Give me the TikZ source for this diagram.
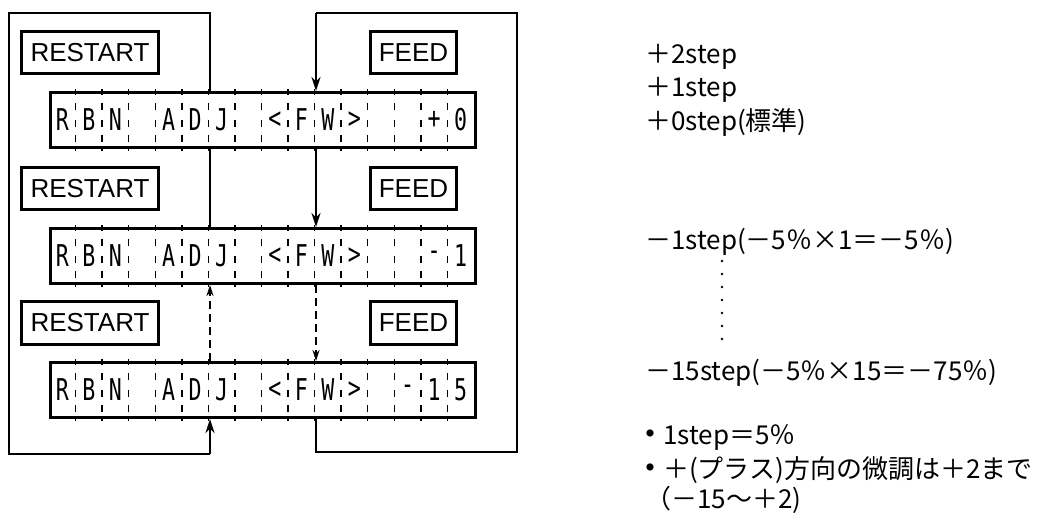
\documentclass[tikz,border=0pt]{standalone}
\usepackage{fontspec}
\usepackage{graphicx}
\setmainfont{Liberation Sans}
\newfontfamily\jp{Noto Sans CJK JP}
\newfontfamily\monof{DejaVu Sans Mono}
\usetikzlibrary{arrows.meta,calc}
\tikzset{
  disp/.style={draw,line width=3pt,minimum width=425pt,minimum height=55pt,inner sep=0pt,anchor=north west},
  keybox/.style={draw,line width=3pt,inner sep=0pt,anchor=north west,font=\fontsize{26pt}{26pt}\selectfont},
  loopline/.style={line width=2.8pt},
  divider/.style={line width=1.4pt,dash pattern=on 6pt off 8pt on 7pt off 10pt on 7pt off 8pt on 7pt},
  cellchar/.style={font=\monof\fontsize{30pt}{30pt}\selectfont,inner sep=0pt},
  solidarrow/.style={loopline,-{Stealth[length=14pt,width=9pt]}},
  dasharrow/.style={line width=2.2pt,dash pattern=on 8pt off 5pt,-{Stealth[length=11pt,width=7pt]}},
  note/.style={font=\jp\fontsize{26pt}{26pt}\selectfont,anchor=west,inner sep=0pt},
}
\newcommand{\cellrow}[2]{%
  \foreach \k in {1,...,15} {
    \draw[divider] ($(#1.north west)+(26.5625*\k,-2)$) -- ($(#1.south west)+(26.5625*\k,2)$);
  }
  \foreach \c [count=\k] in {#2} {
    \node[cellchar] at ($(#1.west)+(26.5625*\k-13.28,0)$) {\scalebox{0.72}[1]{\c}};
  }
}
\newcommand{\bul}{\raisebox{8pt}{\fontsize{8pt}{8pt}\selectfont ●}\hspace{9pt}}
\begin{document}
\begin{tikzpicture}[x=1pt,y=-1pt]
\useasboundingbox (0,0) rectangle (1051,515);
% displays
\node[disp] (d1) at (49,91) {};
\node[disp] (d2) at (49,227) {};
\node[disp] (d3) at (49,361) {};
\cellrow{d1}{R,B,N,{},A,D,J,{},<,F,W,>,{},{},+,0}
\cellrow{d2}{R,B,N,{},A,D,J,{},<,F,W,>,{},{},-,1}
\cellrow{d3}{R,B,N,{},A,D,J,{},<,F,W,>,{},-,1,5}
% key boxes
\node[keybox,minimum width=137pt,minimum height=42pt] (r1) at (20,30) {RESTART};
\node[keybox,minimum width=137pt,minimum height=42pt] (r2) at (20,166) {RESTART};
\node[keybox,minimum width=137pt,minimum height=43pt] (r3) at (20,300) {RESTART};
\node[keybox,minimum width=86pt,minimum height=42pt] (f1) at (369,30) {FEED};
\node[keybox,minimum width=86pt,minimum height=42pt] (f2) at (369,166) {FEED};
\node[keybox,minimum width=86pt,minimum height=43pt] (f3) at (369,300) {FEED};
% loop coordinates
\coordinate (L) at (210,0);
\coordinate (R) at (316,0);
\coordinate (lt) at (9,13);
\coordinate (lb) at (9,454);
\coordinate (rt) at (517,13);
\coordinate (rb) at (517,452);
% RESTART path
\draw[loopline] (d1.north -| L) -- (L |- lt) -- (lt) -- (lb) -- (lb -| L);
\draw[solidarrow] (lb -| L) -- (d3.south -| L);
\draw[loopline] (d1.south -| L) -- (d2.north -| L);
\draw[dasharrow] (d3.north -| L) -- (d2.south -| L);
% FEED path
\draw[loopline] (d3.south -| R) -- (R |- rb) -- (rb) -- (rt) -- (rt -| R);
\draw[solidarrow] (rt -| R) -- (d1.north -| R);
\draw[solidarrow] (d1.south -| R) -- (d2.north -| R);
\draw[dasharrow] (d2.south -| R) -- (d3.north -| R);
% notes
\node[note] (n1) at (645,57) {＋2step};
\node[note] (n2) at (645,90) {＋1step};
\node[note] (n3) at (645,122) {＋0step(標準)};
\node[note] (n4) at (645,242) {－1step(－5％×1＝－5％)};
\node[note] (n5) at (645,373) {－15step(－5％×15＝－75％)};
\foreach \i in {0,...,6} \fill (722,261+13*\i) circle (1.4pt);
\node[note] (n6) at (646,438) {\bul 1step＝5％};
\node[note] (n7) at (646,470) {\bul ＋(プラス)方向の微調は＋2まで};
\node[note] (n8) at (645,500) {（－15～＋2)};
\end{tikzpicture}
\end{document}
